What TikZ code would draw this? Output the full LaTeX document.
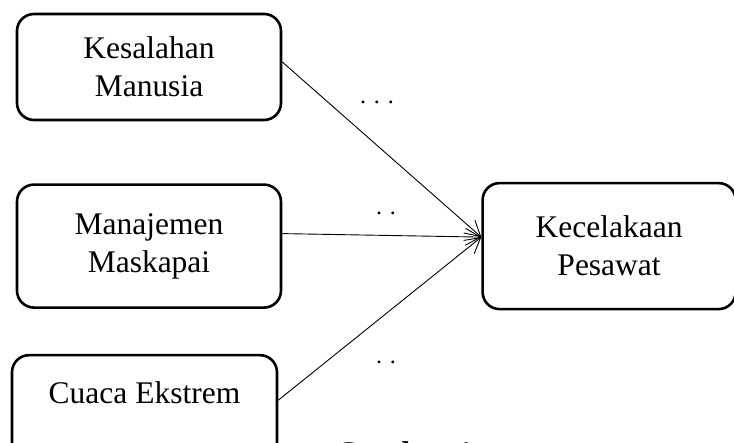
\documentclass[tikz,border=0pt]{standalone}
\usepackage{fontspec}
\setmainfont{Liberation Serif}
\usepackage{tikz}
\usetikzlibrary{arrows.meta, positioning}
\tikzset{
  kotak/.style={draw, rounded corners=17pt, line width=2.6pt, align=center,
    font=\fontsize{31.5}{38}\selectfont, inner sep=0pt},
  titik/.style={font=\fontsize{24}{28}\selectfont, anchor=base, inner sep=0pt}
}

\begin{document}
\begin{tikzpicture}[x=1pt, y=-1pt, >={Straight Barb[length=15pt,width=17pt]}, line width=0.9pt]
\useasboundingbox (0,0) rectangle (734,443);
\node[kotak, minimum width=264pt, minimum height=106pt] (kesalahan) at (149,67) {Kesalahan\\Manusia};
\node[kotak, minimum width=264pt, minimum height=123pt, below=62pt of kesalahan] (manajemen) {Manajemen\\Maskapai};
\node[kotak, minimum width=265pt, minimum height=110pt, text depth=35pt, below=45pt of manajemen, xshift=-4.5pt] (cuaca) {Cuaca Ekstrem};
\node[kotak, minimum width=253pt, minimum height=126pt, right=199pt of manajemen] (kecelakaan) {Kecelakaan\\Pesawat};
% panah ke kecelakaan
\draw[->] ([yshift=5pt]kesalahan.east) -- ([yshift=9pt]kecelakaan.west);
\draw[->] ([yshift=12.5pt]manajemen.east) -- ([yshift=9pt]kecelakaan.west);
\draw[->] ([yshift=10pt]cuaca.east) -- ([yshift=9pt]kecelakaan.west);
% label
\node[titik] (t1) at (377,103.5) {. . .};
\node[titik] (t2) at (386,215) {. .};
\node[titik] (t3) at (386,364) {. .};
\node[anchor=base west, inner sep=0pt, font=\fontsize{31.5}{38}\selectfont\bfseries] (judul) at (335,464) {Gambar 1};
\end{tikzpicture}
\end{document}
